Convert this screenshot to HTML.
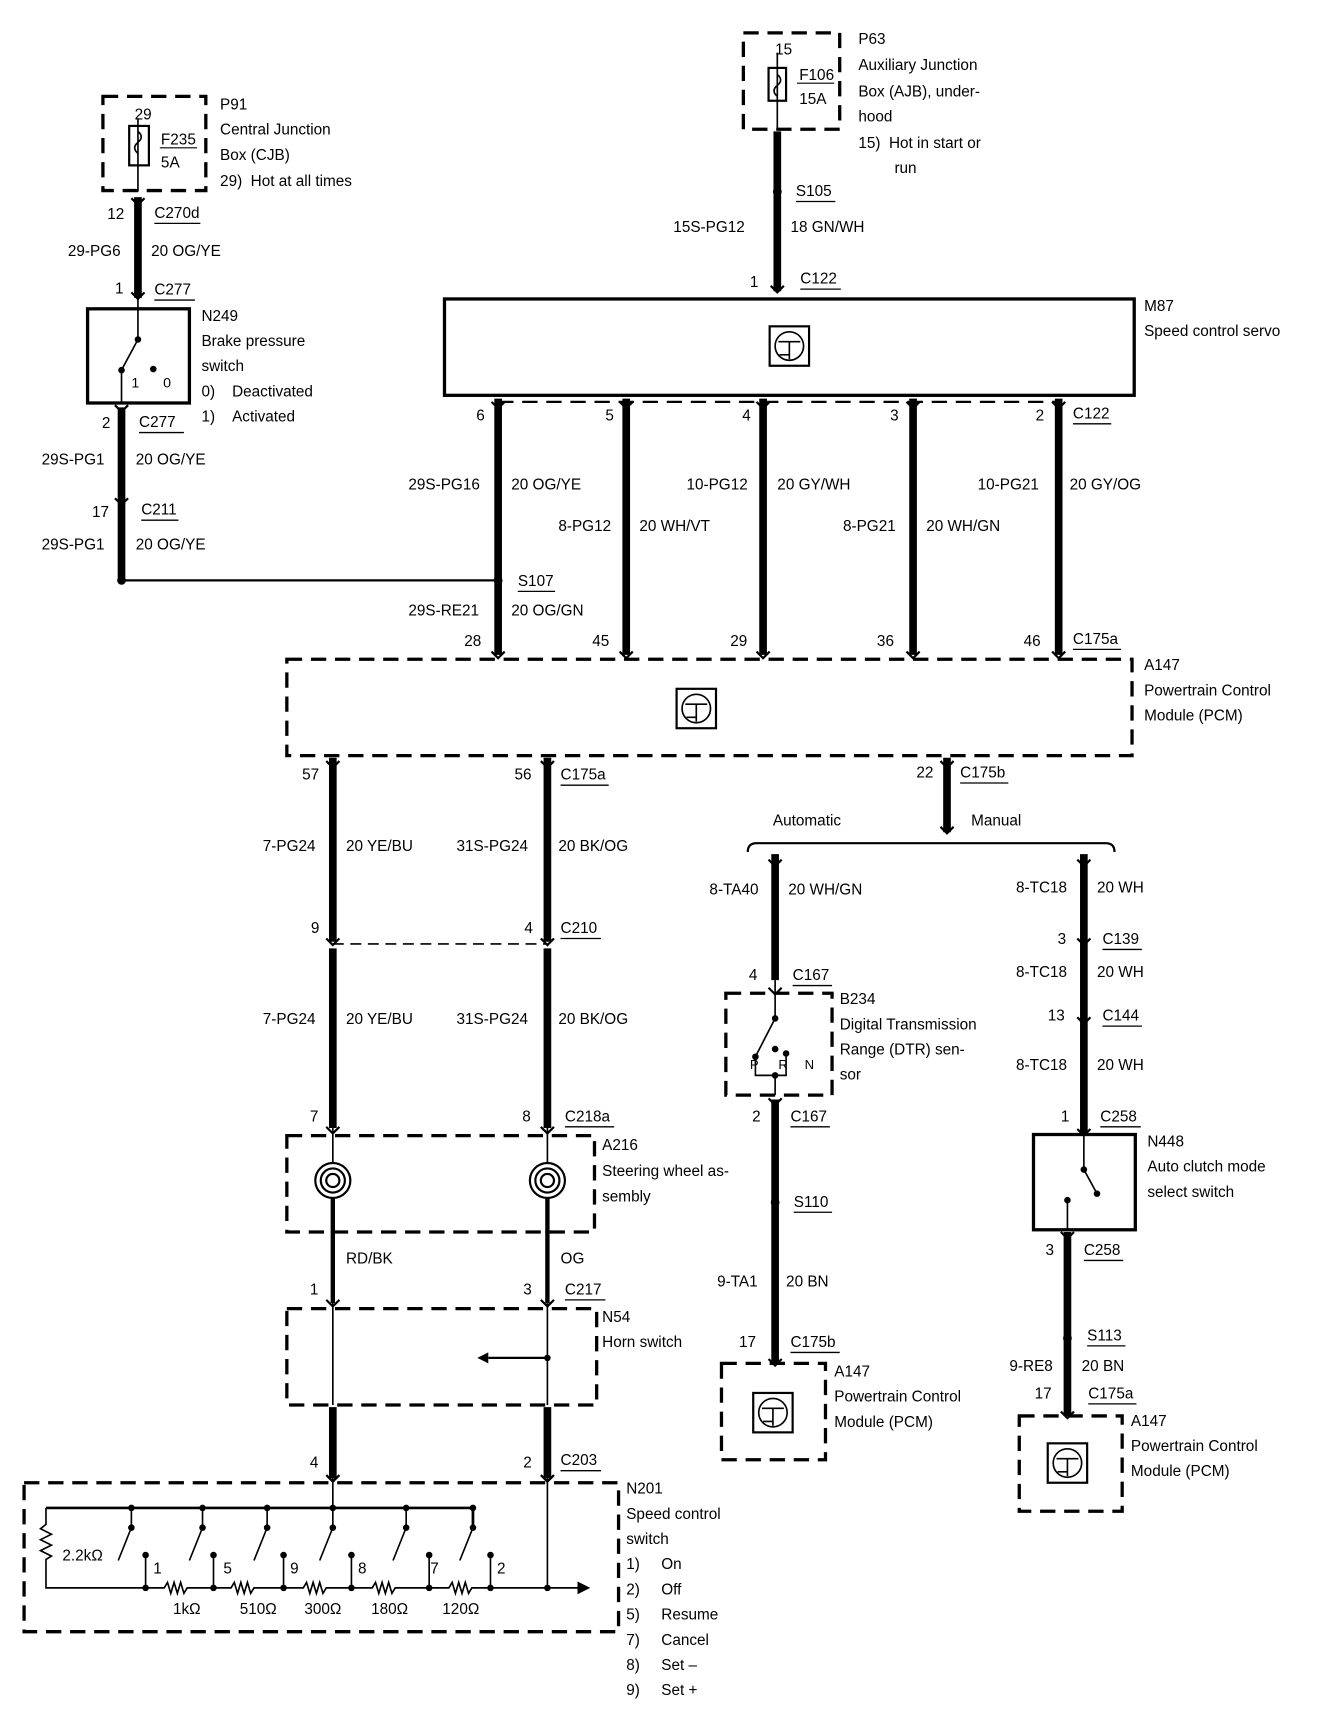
<!DOCTYPE html>
<html><head><meta charset="utf-8"><style>
html,body{margin:0;padding:0;background:#fff}
svg{display:block}
text{font-family:"Liberation Sans",sans-serif;font-size:14px;fill:#000}
</style></head><body>
<svg width="1328" height="1716" viewBox="0 0 1213 1567" preserveAspectRatio="none" xmlns="http://www.w3.org/2000/svg">
<defs>
<g id="ic"><rect x="-18" y="-18" width="36" height="36" fill="none" stroke="#000" stroke-width="2"/><circle cx="0" cy="0" r="13" fill="none" stroke="#000" stroke-width="1.5"/><path d="M-10 -4 H10 M0 -4 V12 M-9 8 L0 8" stroke="#000" stroke-width="1.5" fill="none"/></g>
<g id="cv"><path d="M-6 -5 L0 1 L6 -5" stroke="#000" stroke-width="2" fill="none"/></g>
<g id="spiral"><circle r="16" fill="none" stroke="#000" stroke-width="2"/><circle r="11" fill="none" stroke="#000" stroke-width="2"/><circle r="6" fill="none" stroke="#000" stroke-width="2"/></g>
</defs>
<g stroke="#000" fill="none">
<!-- P91 -->
<rect x="94" y="88" width="94" height="86" stroke-width="3" stroke-dasharray="14,8"/>
<rect x="118" y="115" width="18" height="36" stroke-width="2"/>
<path d="M126 108 V175 M126 120 q6 5 0 10 q-6 5 0 10" stroke-width="1.5"/>
<path d="M146 135 H180" stroke-width="1"/>
<path d="M126 180 V272" stroke-width="7"/>
<!-- N249 -->
<rect x="80" y="282" width="93" height="86" stroke-width="3"/>
<path d="M126 272 V310 L111 338 V368" stroke-width="1.5"/>
<path d="M111 372 V530" stroke-width="7"/>
<path d="M111 530 H455" stroke-width="2"/>
<!-- P63 -->
<rect x="679" y="30" width="88" height="88" stroke-width="3" stroke-dasharray="14,8"/>
<rect x="702" y="62" width="16" height="30" stroke-width="2"/>
<path d="M710 48 V118 M710 68 q6 5 0 10 q-6 5 0 10" stroke-width="1.5"/>
<path d="M728 76 H762" stroke-width="1"/>
<path d="M710 120 V266" stroke-width="7"/>
<!-- M87 -->
<rect x="406" y="273" width="630" height="88" stroke-width="3"/>
<path d="M455 367 H967" stroke-width="2" stroke-dasharray="14,8"/>
<path d="M455 364 V598 M572 364 V598 M697 364 V598 M834 364 V598 M967 364 V598" stroke-width="7"/>
<!-- A147 main -->
<rect x="262" y="602" width="772" height="88" stroke-width="3" stroke-dasharray="14,8"/>
<path d="M304 692 V860 M500 692 V860 M304 866 V1030 M500 866 V1030" stroke-width="7"/>
<path d="M304 862 H500" stroke-width="1.5" stroke-dasharray="10,6"/>
<!-- A216 -->
<rect x="262" y="1037" width="281" height="88" stroke-width="3" stroke-dasharray="14,8"/>
<path d="M304 1030 V1062 M500 1030 V1062" stroke-width="1.5"/>
<path d="M304 1094 V1190 M500 1094 V1190" stroke-width="4"/>
<!-- N54 -->
<rect x="262" y="1195" width="283" height="88" stroke-width="3" stroke-dasharray="14,8"/>
<path d="M304 1190 V1283 M500 1190 V1283" stroke-width="1.5"/>
<path d="M500 1240 H446" stroke-width="2"/>
<path d="M304 1285 V1350 M500 1285 V1350" stroke-width="7"/>
<!-- N201 -->
<rect x="22" y="1354" width="543" height="136" stroke-width="3" stroke-dasharray="14,8"/>
<path d="M304 1350 V1377 M500 1350 V1450" stroke-width="1.5"/>
<path d="M42 1377 H432 V1395" stroke-width="2.5"/>
<path d="M42 1377 V1392 l-5 4 l10 5 l-10 5 l10 5 l-10 5 l10 5 l-5 3 V1450 H133" stroke-width="1.5"/>
<path d="M133 1450 H150 l3 -5 l3 10 l3 -10 l3 10 l3 -10 l3 10 l3 -5 H195 H211 l3 -5 l3 10 l3 -10 l3 10 l3 -10 l3 10 l3 -5 H259 H277 l3 -5 l3 10 l3 -10 l3 10 l3 -10 l3 10 l3 -5 H321 H340 l3 -5 l3 10 l3 -10 l3 10 l3 -10 l3 10 l3 -5 H392 H410 l3 -5 l3 10 l3 -10 l3 10 l3 -10 l3 10 l3 -5 H528" stroke-width="1.5"/>
<path d="M528 1445 L538 1450 L528 1455 Z" fill="#000"/>
<path d="M120 1377 V1395 L108 1425 M185 1377 V1395 L173 1425 M244 1377 V1395 L232 1425 M304 1377 V1395 L292 1425 M371 1377 V1395 L359 1425 M432 1395 L420 1425" stroke-width="1.5"/>
<path d="M133 1420 V1450 M195 1420 V1450 M259 1420 V1450 M321 1420 V1450 M392 1420 V1450 M448 1420 V1450" stroke-width="1.5"/>
<!-- right side -->
<path d="M865 692 V760" stroke-width="7"/>
<path d="M683 778 q0 -8 8 -8 H1010 q8 0 8 8" stroke-width="2"/>
<path d="M708 780 V895 M990 780 V1035" stroke-width="7"/>
<rect x="663" y="907" width="97" height="93" stroke-width="3" stroke-dasharray="14,8"/>
<path d="M708 895 V930 L690 965 V982 H718 V962 M708 982 V1000" stroke-width="1.5"/>
<path d="M708 1004 V1245" stroke-width="7"/>
<rect x="659" y="1245" width="95" height="88" stroke-width="3" stroke-dasharray="14,8"/>
<rect x="944" y="1036" width="93" height="87" stroke-width="3"/>
<path d="M990 1036 V1068 L1002 1090 M975 1096 V1123" stroke-width="1.5"/>
<path d="M975 1125 V1293" stroke-width="7"/>
<rect x="931" y="1293" width="94" height="87" stroke-width="3" stroke-dasharray="14,8"/>
<!-- underlines -->
<path d="M141 204 H183 M141 274 H178 M127 395 H168 M129 475 H163 M727 184 H763 M731 264 H768 M980 387 H1015 M473 540 H507 M980 593 H1024 M512 717 H556 M877 715 H921 M512 857 H549 M516 1029 H561 M516 1187 H553 M512 1343 H549 M724 900 H760 M722 1029 H758 M725 1107 H760 M722 1235 H767 M1007 867 H1043 M1007 937 H1043 M1005 1029 H1042 M990 1151 H1026 M993 1229 H1028 M994 1282 H1038" stroke-width="1.2"/>
</g>
<g fill="#000">
<circle cx="111" cy="530" r="4"/><circle cx="455" cy="530" r="4"/><circle cx="710" cy="175" r="4"/>
<circle cx="126" cy="310" r="3"/><circle cx="111" cy="338" r="3"/><circle cx="140" cy="337" r="3"/>
<circle cx="708" cy="1098" r="4"/><circle cx="975" cy="1222" r="4"/>
<circle cx="708" cy="930" r="3"/><circle cx="690" cy="965" r="3"/><circle cx="708" cy="958" r="3"/><circle cx="718" cy="962" r="3"/><circle cx="708" cy="982" r="3"/>
<circle cx="990" cy="1068" r="3"/><circle cx="1002" cy="1090" r="3"/><circle cx="975" cy="1096" r="3"/>
<circle cx="500" cy="1240" r="3"/><circle cx="500" cy="1450" r="3"/>
<circle cx="120" cy="1377" r="3"/><circle cx="185" cy="1377" r="3"/><circle cx="244" cy="1377" r="3"/><circle cx="304" cy="1377" r="3"/><circle cx="371" cy="1377" r="3"/><circle cx="432" cy="1377" r="3"/>
<circle cx="120" cy="1395" r="3"/><circle cx="185" cy="1395" r="3"/><circle cx="244" cy="1395" r="3"/><circle cx="304" cy="1395" r="3"/><circle cx="371" cy="1395" r="3"/><circle cx="432" cy="1395" r="3"/>
<circle cx="133" cy="1420" r="3"/><circle cx="195" cy="1420" r="3"/><circle cx="259" cy="1420" r="3"/><circle cx="321" cy="1420" r="3"/><circle cx="392" cy="1420" r="3"/><circle cx="448" cy="1420" r="3"/>
<circle cx="133" cy="1450" r="3"/><circle cx="195" cy="1450" r="3"/><circle cx="259" cy="1450" r="3"/><circle cx="321" cy="1450" r="3"/><circle cx="392" cy="1450" r="3"/><circle cx="448" cy="1450" r="3"/>
<path d="M446 1235 L436 1240 L446 1245 Z"/>
</g>
<use href="#ic" x="721" y="316"/><use href="#ic" x="636" y="647"/><use href="#ic" x="706" y="1290"/><use href="#ic" x="975" y="1336"/>
<use href="#spiral" x="304" y="1078"/><use href="#spiral" x="500" y="1078"/>
<g>
<use href="#cv" x="126" y="186"/><use href="#cv" x="126" y="272"/><use href="#cv" x="111" y="375"/><use href="#cv" x="111" y="460"/>
<use href="#cv" x="710" y="266"/><use href="#cv" x="455" y="372"/><use href="#cv" x="572" y="372"/><use href="#cv" x="697" y="372"/><use href="#cv" x="834" y="372"/><use href="#cv" x="967" y="372"/>
<use href="#cv" x="455" y="600"/><use href="#cv" x="572" y="600"/><use href="#cv" x="697" y="600"/><use href="#cv" x="834" y="600"/><use href="#cv" x="967" y="600"/>
<use href="#cv" x="304" y="700"/><use href="#cv" x="500" y="700"/><use href="#cv" x="304" y="862"/><use href="#cv" x="500" y="862"/><use href="#cv" x="304" y="1034"/><use href="#cv" x="500" y="1034"/>
<use href="#cv" x="304" y="1192"/><use href="#cv" x="500" y="1192"/><use href="#cv" x="304" y="1352"/><use href="#cv" x="500" y="1352"/>
<use href="#cv" x="865" y="700"/><use href="#cv" x="865" y="760"/><use href="#cv" x="708" y="790"/><use href="#cv" x="990" y="790"/><use href="#cv" x="708" y="907"/><use href="#cv" x="708" y="1008"/><use href="#cv" x="708" y="1246"/>
<use href="#cv" x="990" y="862"/><use href="#cv" x="990" y="934"/><use href="#cv" x="990" y="1036"/><use href="#cv" x="975" y="1130"/><use href="#cv" x="975" y="1294"/>
</g>
<!-- texts -->
<text x="123" y="109">29</text><text x="147" y="132">F235</text><text x="147" y="153">5A</text>
<text x="201" y="100">P91</text><text x="201" y="123">Central Junction</text><text x="201" y="146">Box (CJB)</text><text x="201" y="170">29)&#160;&#160;Hot at all times</text>
<text x="98" y="200">12</text><text x="141" y="199">C270d</text>
<text x="62" y="234">29-PG6</text><text x="138" y="234">20 OG/YE</text>
<text x="105" y="268">1</text><text x="141" y="269">C277</text>
<text x="184" y="293">N249</text><text x="184" y="316">Brake pressure</text><text x="184" y="339">switch</text><text x="184" y="362">0)&#160;&#160;&#160;&#160;Deactivated</text><text x="184" y="385">1)&#160;&#160;&#160;&#160;Activated</text>
<text x="120" y="354" style="font-size:13px">1</text><text x="149" y="354" style="font-size:13px">0</text>
<text x="93" y="391">2</text><text x="127" y="390">C277</text>
<text x="38" y="424">29S-PG1</text><text x="124" y="424">20 OG/YE</text>
<text x="84" y="472">17</text><text x="129" y="470">C211</text>
<text x="38" y="502">29S-PG1</text><text x="124" y="502">20 OG/YE</text>
<text x="708" y="50">15</text><text x="730" y="73">F106</text><text x="730" y="95">15A</text>
<text x="784" y="40">P63</text><text x="784" y="64">Auxiliary Junction</text><text x="784" y="88">Box (AJB), under-</text><text x="784" y="111">hood</text><text x="784" y="135">15)&#160;&#160;Hot in start or</text><text x="817" y="158">run</text>
<text x="727" y="179">S105</text><text x="615" y="212">15S-PG12</text><text x="722" y="212">18 GN/WH</text>
<text x="685" y="262">1</text><text x="731" y="259">C122</text>
<text x="1045" y="284">M87</text><text x="1045" y="307">Speed control servo</text>
<text x="435" y="384">6</text><text x="553" y="384">5</text><text x="678" y="384">4</text><text x="813" y="384">3</text><text x="946" y="384">2</text><text x="980" y="382">C122</text>
<text x="373" y="447">29S-PG16</text><text x="467" y="447">20 OG/YE</text><text x="627" y="447">10-PG12</text><text x="710" y="447">20 GY/WH</text><text x="893" y="447">10-PG21</text><text x="977" y="447">20 GY/OG</text>
<text x="510" y="485">8-PG12</text><text x="584" y="485">20 WH/VT</text><text x="770" y="485">8-PG21</text><text x="846" y="485">20 WH/GN</text>
<text x="473" y="535">S107</text><text x="373" y="562">29S-RE21</text><text x="467" y="562">20 OG/GN</text>
<text x="424" y="590">28</text><text x="541" y="590">45</text><text x="667" y="590">29</text><text x="801" y="590">36</text><text x="935" y="590">46</text><text x="980" y="588">C175a</text>
<text x="1045" y="612">A147</text><text x="1045" y="635">Powertrain Control</text><text x="1045" y="658">Module (PCM)</text>
<text x="276" y="712">57</text><text x="470" y="712">56</text><text x="512" y="712">C175a</text>
<text x="240" y="777">7-PG24</text><text x="316" y="777">20 YE/BU</text><text x="417" y="777">31S-PG24</text><text x="510" y="777">20 BK/OG</text>
<text x="284" y="852">9</text><text x="479" y="852">4</text><text x="512" y="852">C210</text>
<text x="240" y="935">7-PG24</text><text x="316" y="935">20 YE/BU</text><text x="417" y="935">31S-PG24</text><text x="510" y="935">20 BK/OG</text>
<text x="283" y="1024">7</text><text x="477" y="1024">8</text><text x="516" y="1024">C218a</text>
<text x="550" y="1050">A216</text><text x="550" y="1074">Steering wheel as-</text><text x="550" y="1097">sembly</text>
<text x="316" y="1154">RD/BK</text><text x="512" y="1154">OG</text>
<text x="283" y="1182">1</text><text x="478" y="1182">3</text><text x="516" y="1182">C217</text>
<text x="550" y="1207">N54</text><text x="550" y="1230">Horn switch</text>
<text x="283" y="1340">4</text><text x="478" y="1340">2</text><text x="512" y="1338">C203</text>
<text x="572" y="1364">N201</text><text x="572" y="1387">Speed control</text><text x="572" y="1410">switch</text>
<text x="572" y="1433">1)</text><text x="604" y="1433">On</text><text x="572" y="1456">2)</text><text x="604" y="1456">Off</text><text x="572" y="1479">5)</text><text x="604" y="1479">Resume</text><text x="572" y="1502">7)</text><text x="604" y="1502">Cancel</text><text x="572" y="1525">8)</text><text x="604" y="1525">Set –</text><text x="572" y="1548">9)</text><text x="604" y="1548">Set +</text>
<text x="57" y="1425">2.2kΩ</text>
<text x="140" y="1437">1</text><text x="204" y="1437">5</text><text x="265" y="1437">9</text><text x="327" y="1437">8</text><text x="393" y="1437">7</text><text x="454" y="1437">2</text>
<text x="158" y="1474">1kΩ</text><text x="219" y="1474">510Ω</text><text x="278" y="1474">300Ω</text><text x="339" y="1474">180Ω</text><text x="404" y="1474">120Ω</text>
<text x="837" y="710">22</text><text x="877" y="710">C175b</text>
<text x="706" y="754">Automatic</text><text x="887" y="754">Manual</text>
<text x="648" y="817">8-TA40</text><text x="720" y="817">20 WH/GN</text>
<text x="684" y="895">4</text><text x="724" y="895">C167</text>
<text x="767" y="917">B234</text><text x="767" y="940">Digital Transmission</text><text x="767" y="963">Range (DTR) sen-</text><text x="767" y="986">sor</text>
<text x="685" y="976" style="font-size:12px">P</text><text x="711" y="976" style="font-size:12px">R</text><text x="735" y="976" style="font-size:12px">N</text>
<text x="687" y="1024">2</text><text x="722" y="1024">C167</text>
<text x="725" y="1102">S110</text><text x="655" y="1175">9-TA1</text><text x="718" y="1175">20 BN</text>
<text x="675" y="1230">17</text><text x="722" y="1230">C175b</text>
<text x="762" y="1257">A147</text><text x="762" y="1280">Powertrain Control</text><text x="762" y="1303">Module (PCM)</text>
<text x="928" y="815">8-TC18</text><text x="1002" y="815">20 WH</text>
<text x="966" y="862">3</text><text x="1007" y="862">C139</text>
<text x="928" y="892">8-TC18</text><text x="1002" y="892">20 WH</text>
<text x="957" y="932">13</text><text x="1007" y="932">C144</text>
<text x="928" y="977">8-TC18</text><text x="1002" y="977">20 WH</text>
<text x="969" y="1024">1</text><text x="1005" y="1024">C258</text>
<text x="1048" y="1047">N448</text><text x="1048" y="1070">Auto clutch mode</text><text x="1048" y="1093">select switch</text>
<text x="955" y="1146">3</text><text x="990" y="1146">C258</text>
<text x="993" y="1224">S113</text><text x="922" y="1252">9-RE8</text><text x="988" y="1252">20 BN</text>
<text x="945" y="1277">17</text><text x="994" y="1277">C175a</text>
<text x="1033" y="1302">A147</text><text x="1033" y="1325">Powertrain Control</text><text x="1033" y="1348">Module (PCM)</text>
</svg>
</body></html>
